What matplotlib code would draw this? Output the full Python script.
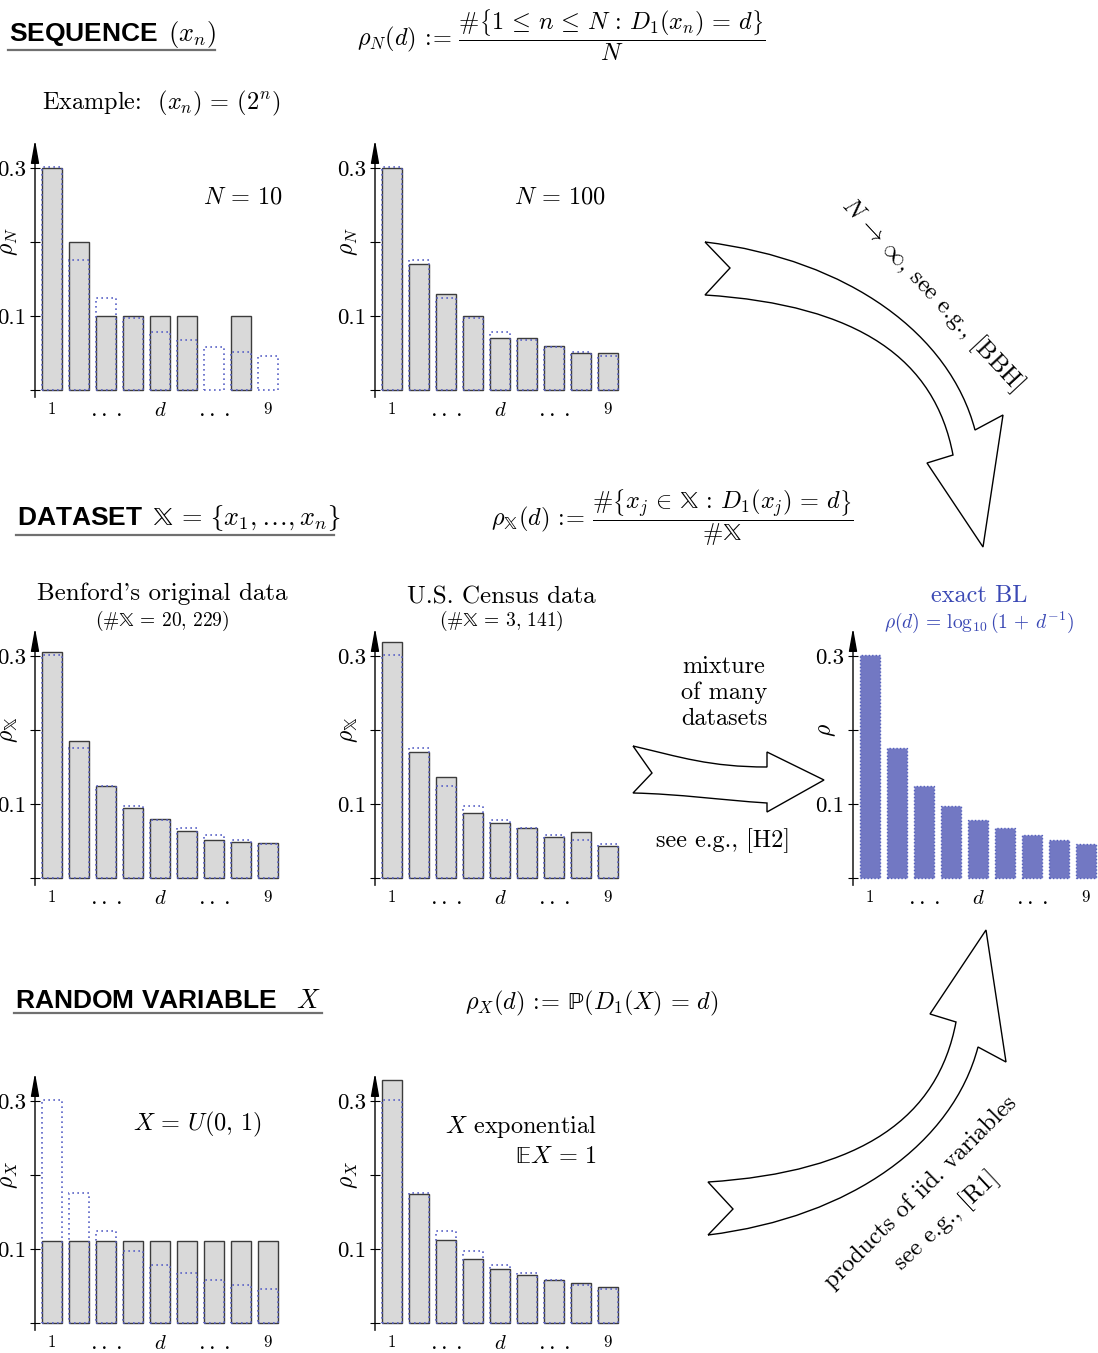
import matplotlib
matplotlib.use('Agg')
import matplotlib.pyplot as plt
import matplotlib.transforms as mtransforms
from matplotlib.path import Path
from matplotlib.patches import PathPatch
from matplotlib.lines import Line2D

plt.rcParams['mathtext.fontset'] = 'cm'
plt.rcParams['font.family'] = 'serif'
plt.rcParams['font.serif'] = ['cmr10']
plt.rcParams['axes.unicode_minus'] = False

# first digit frequencies, d = 1..9
digits = [1, 2, 3, 4, 5, 6, 7, 8, 9]
benford = [0.301, 0.176, 0.125, 0.097, 0.079, 0.067, 0.058, 0.051, 0.046]
seq_n10 = [0.30, 0.20, 0.10, 0.10, 0.10, 0.10, 0.0, 0.10, 0.0]
seq_n100 = [0.30, 0.17, 0.13, 0.10, 0.07, 0.07, 0.06, 0.05, 0.05]
benford_orig = [0.306, 0.185, 0.124, 0.094, 0.080, 0.064, 0.051, 0.049, 0.047]
census = [0.319, 0.170, 0.136, 0.088, 0.074, 0.068, 0.055, 0.062, 0.043]
uniform = [0.111, 0.111, 0.111, 0.111, 0.111, 0.111, 0.111, 0.111, 0.111]
expo = [0.328, 0.174, 0.112, 0.086, 0.073, 0.065, 0.058, 0.054, 0.049]

xtick_pos = [1, 3, 5, 7, 9]
xtick_lab = ['1', r'$\cdot\cdot\cdot$', '$d$', r'$\cdot\cdot\cdot$', '9']
xtick_size = [12, 17, 15, 17, 12]

W, H = 1098, 1353
fig = plt.figure(figsize=(W / 100, H / 100), dpi=100)
# pixel coordinates (origin top-left) -> figure
pix = mtransforms.Affine2D().scale(1 / W, -1 / H).translate(0, 1) + fig.transFigure

GREY = '#d9d9d9'
EDGE = '#3c3c3c'
BLUE = '#5a62c6'
BLUE_FILL = '#7278c3'
BLUE_TXT = '#3a48b4'

PITCH = 27.0   # px per digit
PER = 740.0    # px per unit of frequency
X0, X1 = 1 - 17 / 27, 9.45
Y0, Y1 = -0.01, 0.338

BBX = r'\mathrm{\mathbb{X}}'


def panel(axis_x, base_y, values, ylabel, exact=False):
    w = (X1 - X0) * PITCH
    h = (Y1 - Y0) * PER
    ax = fig.add_axes([axis_x / W, 1 - (base_y - Y0 * PER) / H, w / W, h / H])
    ax.set_xlim(X0, X1)
    ax.set_ylim(Y0, Y1)
    ax.patch.set_visible(False)
    if exact:
        ax.bar(digits, values, width=0.74, color=BLUE_FILL, edgecolor='#5560bd',
               linewidth=1.0, linestyle=(0, (1, 1.5)), zorder=2)
    else:
        edges = [EDGE if v > 0 else 'none' for v in values]
        ax.bar(digits, values, width=0.74, color=GREY, edgecolor=edges,
               linewidth=1.0, zorder=2)
        ax.bar(digits, benford, width=0.74, fill=False, edgecolor=BLUE,
               linewidth=1.2, linestyle=(0, (1, 2)), zorder=3)
    for s in ax.spines.values():
        s.set_visible(False)
    ax.annotate('', xy=(0, 1), xytext=(0, 0), xycoords='axes fraction',
                arrowprops=dict(arrowstyle='-|>,head_length=1.4,head_width=0.25',
                                color='k', lw=1.0, shrinkA=0, shrinkB=0),
                annotation_clip=False)
    ax.set_yticks([0, 0.1, 0.2, 0.3])
    ax.set_yticklabels(['', '0.1', '', '0.3'])
    ax.tick_params(axis='y', direction='inout', length=7, width=0.8,
                   labelsize=16.5, pad=3)
    ax.set_xticks(xtick_pos)
    ax.set_xticklabels(xtick_lab)
    for lab, s in zip(ax.get_xticklabels(), xtick_size):
        lab.set_fontsize(s)
    ax.tick_params(axis='x', length=0, pad=3)
    ax.set_ylabel(ylabel, fontsize=17)
    ax.yaxis.set_label_coords(-15 / w, 0.2,
                              transform=mtransforms.blended_transform_factory(
                                  ax.transAxes, ax.transData))
    return ax


panel(35, 390, seq_n10, r'$\rho_N$')
panel(375, 390, seq_n100, r'$\rho_N$')
panel(35, 878, benford_orig, r'$\rho_{%s}$' % BBX)
panel(375, 878, census, r'$\rho_{%s}$' % BBX)
panel(853, 878, benford, r'$\rho$', exact=True)
panel(35, 1323, uniform, r'$\rho_X$')
panel(375, 1323, expo, r'$\rho_X$')


def txt(x, y, s, **kw):
    kw.setdefault('fontsize', 17.5)
    return fig.text(x, y, s, transform=pix, **kw)


def header(x, y, s, x_end, y_line):
    txt(x, y, s, fontsize=19, fontfamily='Liberation Sans', fontweight='bold',
        va='center')
    fig.add_artist(Line2D([x - 1, x_end], [y_line, y_line], transform=pix,
                          color='#707070', lw=1.6))


EQ = r'\,=\,'
DEF = r'\,:\!\!=\,'
LEQ = r'\,\leq\,'
COL = r'\,:\,'

# headers and definitions
header(9, 34, r'SEQUENCE $\,(x_n)$', 215, 50)
header(17, 518, r'DATASET $\,%s%s\lbrace x_1, \ldots, x_n\rbrace$' % (BBX, EQ),
       334, 535)
header(15, 1001, r'RANDOM VARIABLE $\;\;X$', 322, 1013)

txt(357, 35, r'$\rho_N(d)%s\dfrac{\#\left\{1%sn%sN%sD_1(x_n)%sd\right\}}{N}$'
    % (DEF, LEQ, LEQ, COL, EQ), va='center')
txt(491, 518, r'$\rho_{%s}(d)%s\dfrac{\#\left\{x_j\,\in\,%s%sD_1(x_j)%sd\right\}}{\#%s}$'
    % (BBX, DEF, BBX, COL, EQ, BBX), va='center')
txt(465, 1003, r'$\rho_X(d)%s\mathrm{\mathbb{P}}(D_1(X)%sd)$' % (DEF, EQ),
    va='center')

# panel annotations
txt(42, 103, r'Example:  $(x_n)%s(2^n)$' % EQ, va='center')
txt(243, 197, r'$N%s10$' % EQ, ha='center', va='center')
txt(560, 197, r'$N%s100$' % EQ, ha='center', va='center')
txt(162, 594, "Benford's original data", ha='center', va='center',
    fontsize=18)
txt(162, 621, r'$(\#%s%s20,\,229)$' % (BBX, EQ), ha='center', va='center',
    fontsize=14)
txt(501, 597, 'U.S. Census data', ha='center', va='center', fontsize=18)
txt(501, 621, r'$(\#%s%s3,\,141)$' % (BBX, EQ), ha='center', va='center',
    fontsize=14)
txt(979, 596, 'exact BL', ha='center', va='center', color=BLUE_TXT)
txt(979, 622, r'$\rho(d)%s\log_{10}(1 \,+\, d^{-1})$' % EQ, ha='center',
    va='center', fontsize=14, color=BLUE_TXT)
txt(197, 1124, r'$X%sU(0,\,1)$' % EQ, ha='center', va='center')
txt(597, 1127, r'$X$ exponential', ha='right', va='center')
txt(597, 1157, r'$\mathrm{\mathbb{E}}X%s1$' % EQ, ha='right', va='center')

txt(724, 693, 'mixture\nof many\ndatasets', ha='center', va='center',
    linespacing=1.2)
txt(723, 841, 'see e.g., [H2]', ha='center', va='center')


# hollow arrows
def arrow(verts, codes):
    fig.add_artist(PathPatch(Path(verts, codes), transform=pix, facecolor='white',
                             edgecolor='black', lw=1.0))


M, L, C = Path.MOVETO, Path.LINETO, Path.CURVE4

top_v = [(705, 242), (850, 260), (950, 335), (975, 430),
         (1003, 415), (983, 547), (927, 463), (953, 455),
         (935, 360), (860, 305), (705, 295),
         (730, 268), (705, 242)]
top_c = [M, C, C, C, L, L, L, L, C, C, C, L, L]
arrow(top_v, top_c)

# lower arrow: mirror image of the upper one
bot_v = [(x + 3, 1477 - y) for x, y in top_v]
arrow(bot_v, top_c)

mid_v = [(633, 746), (680, 757), (710, 767), (767, 767),
         (767, 752), (824, 780), (767, 812), (767, 803),
         (720, 800), (680, 794), (633, 793),
         (652, 773), (633, 746)]
mid_c = [M, C, C, C, L, L, L, L, C, C, C, L, L]
arrow(mid_v, mid_c)

txt(932, 294, r'$N \,\to\, \infty$, see e.g., [BBH]', rotation=-47,
    rotation_mode='anchor', ha='center', va='center')
txt(921, 1192, 'products of iid. variables', rotation=45,
    rotation_mode='anchor', ha='center', va='center')
txt(946, 1220, 'see e.g., [R1]', rotation=43,
    rotation_mode='anchor', ha='center', va='center')

fig.savefig('out.png', dpi=100)
